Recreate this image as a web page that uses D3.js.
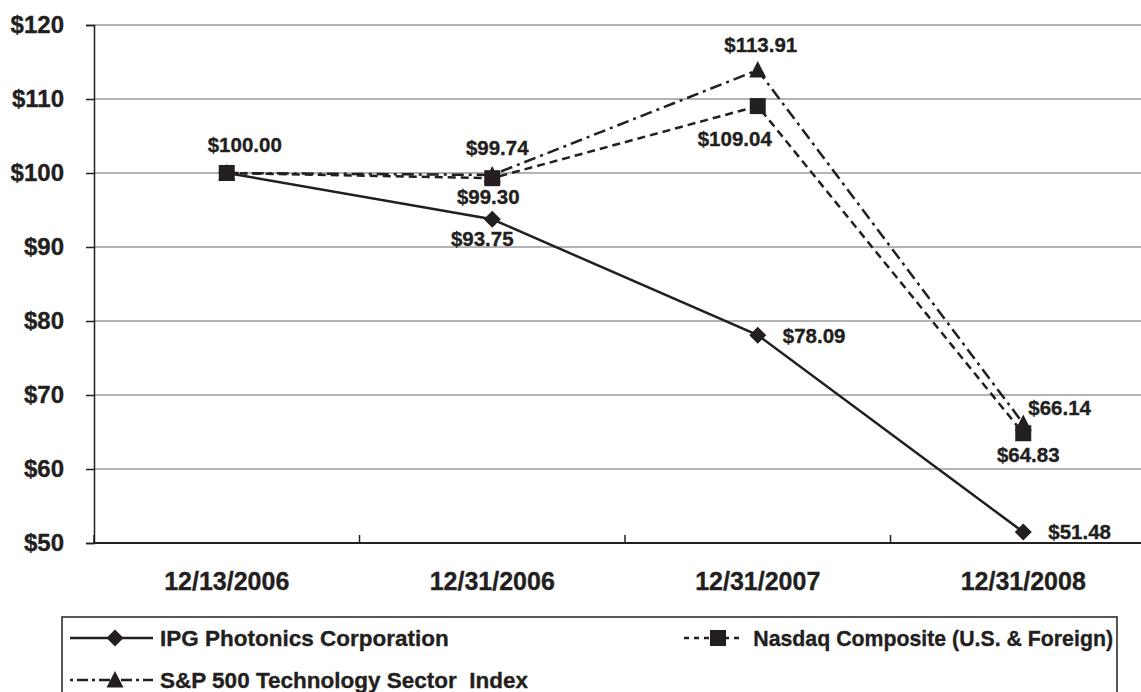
<!DOCTYPE html>
<html>
<head>
<meta charset="utf-8">
<script src="https://cdn.jsdelivr.net/npm/d3@7"></script>
<style>
  html, body { margin: 0; padding: 0; background: #fff; }
  svg { display: block; }
  text { font-family: "Liberation Sans", Arial, sans-serif; font-weight: bold; fill: #231f20; stroke: #231f20; stroke-width: 0.35px; white-space: pre; }
</style>
</head>
<body>
<svg id="chart" width="1141" height="692"></svg>
<script>
// ---- data ----
const categories = ["12/13/2006", "12/31/2006", "12/31/2007", "12/31/2008"];
const ipgValues = [100.00, 93.75, 78.09, 51.48];
const nasdaqValues = [100.00, 99.30, 109.04, 64.83];
const spValues = [100.00, 99.74, 113.91, 66.14];
const yTicks = [50, 60, 70, 80, 90, 100, 110, 120];
const seriesNames = ["IPG Photonics Corporation", "Nasdaq Composite (U.S. & Foreign)", "S&P 500 Technology Sector  Index"];

// ---- layout ----
const ink = "#231f20";
const svg = d3.select("#chart");
const x = d3.scaleBand().domain(categories).range([94, 1156]).paddingInner(0).paddingOuter(0);
const y = d3.scaleLinear().domain([50, 120]).range([543, 25]);
const cx = c => x(c) + x.bandwidth() / 2;

// gridlines
svg.append("g").selectAll("line").data(yTicks.filter(t => t > 50)).join("line")
  .attr("x1", 94).attr("x2", 1141)
  .attr("y1", d => y(d)).attr("y2", d => y(d))
  .attr("stroke", "#9a9a9a").attr("stroke-width", 1.5);

// y axis
const yAxis = svg.append("g").attr("transform", "translate(94,0)")
  .call(d3.axisLeft(y).tickValues(yTicks).tickSize(8).tickPadding(22).tickFormat(d => "$" + d));
yAxis.select(".domain").attr("stroke", ink).attr("stroke-width", 1.5);
yAxis.selectAll(".tick line").attr("stroke", ink).attr("stroke-width", 1.5);
yAxis.selectAll(".tick text").attr("font-size", 24).attr("fill", ink)
  .style("font-family", "'Liberation Sans', Arial, sans-serif").style("font-weight", "bold")
  .style("stroke", ink).style("stroke-width", "0.35px");

// x axis (ticks at category boundaries)
const xg = svg.append("g");
xg.append("line").attr("x1", 94).attr("x2", 1141).attr("y1", y(50)).attr("y2", y(50))
  .attr("stroke", ink).attr("stroke-width", 2);
const boundaries = categories.map(c => x(c));
xg.selectAll("line.bt").data(boundaries).join("line").attr("class", "bt")
  .attr("x1", d => d).attr("x2", d => d).attr("y1", y(50)).attr("y2", y(50) - 8)
  .attr("stroke", ink).attr("stroke-width", 1.5);
xg.selectAll("text").data(categories).join("text")
  .attr("x", d => cx(d)).attr("y", 590).attr("text-anchor", "middle")
  .attr("font-size", 25).text(d => d);

// series
const series = [
  { name: seriesNames[0], values: ipgValues, dash: null, marker: "diamond" },
  { name: seriesNames[1], values: nasdaqValues, dash: "8,5", marker: "square" },
  { name: seriesNames[2], values: spValues, dash: "12,5,3,5", marker: "triangle" }
];

const line = d3.line().x(d => cx(d.c)).y(d => y(d.v));

function markerPath(type) {
  if (type === "diamond") return "M0,-8.5L8.5,0L0,8.5L-8.5,0Z";
  if (type === "square") return "M-8,-8H8V8H-8Z";
  return "M0,-9L8.5,7.5H-8.5Z";
}

// draw order: S&P, Nasdaq, IPG lines, then markers
[2, 1, 0].forEach(i => {
  const s = series[i];
  const pts = s.values.map((v, j) => ({ c: categories[j], v }));
  svg.append("path").datum(pts)
    .attr("d", line).attr("fill", "none").attr("stroke", ink).attr("stroke-width", 2.5)
    .attr("stroke-dasharray", s.dash);
});
[2, 1, 0].forEach(i => {
  const s = series[i];
  const pts = s.values.map((v, j) => ({ c: categories[j], v }));
  svg.append("g").selectAll("path").data(pts).join("path")
    .attr("transform", d => `translate(${cx(d.c)},${y(d.v)})`)
    .attr("d", markerPath(s.marker)).attr("fill", ink);
});

// data labels (offsets only for placement)
const labelPlacement = [
  [{ dx: 18, dy: -21, a: "middle" }, { dx: -10, dy: 27, a: "middle" }, { dx: 25, dy: 8, a: "start" }, { dx: 25, dy: 7, a: "start" }],
  [null, { dx: -4, dy: 26, a: "middle" }, { dx: -23, dy: 40, a: "middle" }, { dx: 5, dy: 29, a: "middle" }],
  [null, { dx: 5, dy: -20, a: "middle" }, { dx: 3, dy: -18, a: "middle" }, { dx: 5, dy: -9, a: "start" }]
];
series.forEach((s, i) => {
  s.values.forEach((v, j) => {
    const p = labelPlacement[i][j];
    if (!p) return;
    svg.append("text")
      .attr("x", cx(categories[j]) + p.dx).attr("y", y(v) + p.dy)
      .attr("text-anchor", p.a).attr("font-size", 20.5)
      .text("$" + v.toFixed(2));
  });
});

// legend
const lg = svg.append("g");
lg.append("rect").attr("x", 62).attr("y", 617).attr("width", 1055).attr("height", 100)
  .attr("fill", "none").attr("stroke", ink).attr("stroke-width", 1.5);
const legendItems = [
  { s: series[0], x0: 70, x1: 153, mx: 115, ty: 638, tx: 160, a: "start", dash: null, fs: 22.5 },
  { s: series[1], x0: 684, x1: 742, mx: 718, ty: 638, tx: 1113, a: "end", dash: "5,5", fs: 21.3 },
  { s: series[2], x0: 70, x1: 153, mx: 115, ty: 680, tx: 160, a: "start", dash: "3,4,11,4", fs: 22.5 }
];
legendItems.forEach(it => {
  lg.append("line").attr("x1", it.x0).attr("x2", it.x1).attr("y1", it.ty).attr("y2", it.ty)
    .attr("stroke", ink).attr("stroke-width", 2.5)
    .attr("stroke-dasharray", it.dash);
  lg.append("path").attr("transform", `translate(${it.mx},${it.ty})`)
    .attr("d", markerPath(it.s.marker)).attr("fill", ink);
  lg.append("text").attr("x", it.tx).attr("y", it.ty + 8).attr("text-anchor", it.a)
    .attr("font-size", it.fs).text(it.s.name);
});
</script>
</body>
</html>
